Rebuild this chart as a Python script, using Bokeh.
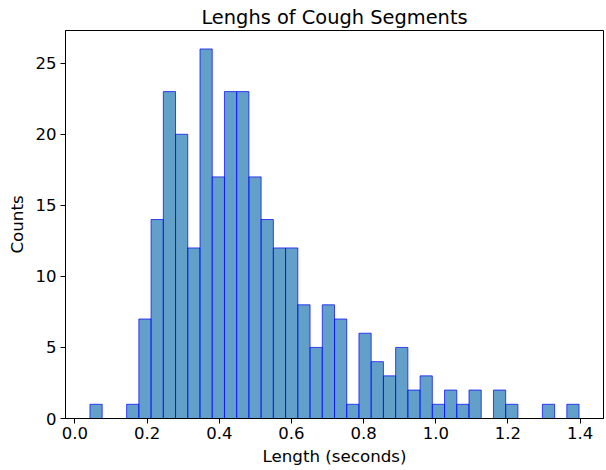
from bokeh.plotting import figure
from bokeh.models import Range1d, FixedTicker, ColumnDataSource
from bokeh.embed import file_html
from bokeh.resources import INLINE

# Histogram: 40 equal bins between bin_min and bin_max
bin_min = 0.0416
bin_max = 1.397
counts = [1, 0, 0, 1, 7, 14, 23, 20, 12, 26,
          17, 23, 23, 17, 14, 12, 12, 8, 5, 8,
          7, 1, 6, 4, 3, 5, 2, 3, 1, 2,
          1, 2, 0, 2, 1, 0, 0, 1, 0, 1]
x_ticks = [0.0, 0.2, 0.4, 0.6, 0.8, 1.0, 1.2, 1.4]
x_tick_labels = ["0.0", "0.2", "0.4", "0.6", "0.8", "1.0", "1.2", "1.4"]
y_ticks = [0, 5, 10, 15, 20, 25]

n = len(counts)
w = (bin_max - bin_min) / n
lefts = [bin_min + i * w for i in range(n)]
rights = [bin_min + (i + 1) * w for i in range(n)]
src = ColumnDataSource(dict(left=lefts, right=rights, top=counts, bottom=[0] * n))

span = bin_max - bin_min
p = figure(width=604, height=468, output_backend="svg", toolbar_location=None,
           x_range=Range1d(bin_min - 0.05 * span, bin_max + 0.05 * span),
           y_range=Range1d(0, max(counts) * 1.05),
           title="Lenghs of Cough Segments",
           min_border_left=65, min_border_right=1, min_border_top=30, min_border_bottom=48)

p.quad(left="left", right="right", top="top", bottom="bottom", source=src,
       fill_color="#1f77b4", fill_alpha=0.7, line_color="blue", line_alpha=0.7, line_width=1)

p.title.align = "center"
p.title.text_font = "DejaVu Sans"
p.title.text_font_size = "19.4px"
p.title.text_font_style = "normal"
p.title.text_color = "black"
p.title.standoff = 4
p.title.offset = 0

p.xgrid.visible = False
p.ygrid.visible = False
p.outline_line_color = "black"
p.outline_line_alpha = 1.0

p.xaxis.ticker = FixedTicker(ticks=x_ticks)
p.xaxis.major_label_overrides = {t: l for t, l in zip(x_ticks, x_tick_labels)}
p.yaxis.ticker = FixedTicker(ticks=y_ticks)

for ax in (p.xaxis[0], p.yaxis[0]):
    ax.axis_line_color = "black"
    ax.major_tick_line_color = "black"
    ax.major_tick_out = 5
    ax.major_tick_in = 0
    ax.minor_tick_line_color = None
    ax.major_label_text_font = "DejaVu Sans"
    ax.major_label_text_font_size = "16.5px"
    ax.major_label_text_color = "black"
    ax.axis_label_text_font = "DejaVu Sans"
    ax.axis_label_text_font_size = "16.7px"
    ax.axis_label_text_font_style = "normal"
    ax.axis_label_text_color = "black"

p.xaxis.axis_label = "Length (seconds)"
p.yaxis.axis_label = "Counts"
p.xaxis.major_label_standoff = 3
p.xaxis.axis_label_standoff = 4
p.yaxis.major_label_standoff = 4
p.yaxis.axis_label_standoff = 6

open("out.html", "w").write(file_html(p, INLINE))
